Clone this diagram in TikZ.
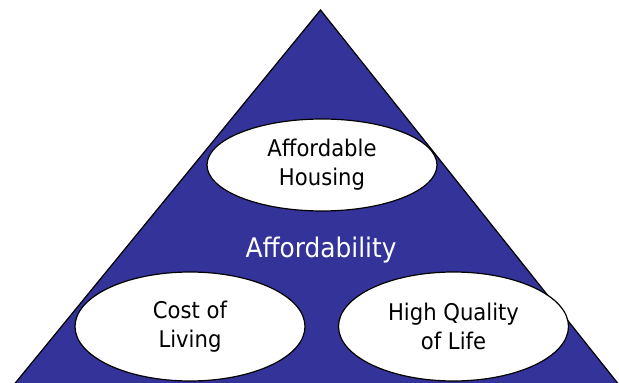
\documentclass[tikz,border=0pt]{standalone}
\usepackage{fontspec}
\setmainfont[FakeStretch=0.92]{DejaVu Sans}
\usetikzlibrary{shapes.geometric}
\definecolor{triblue}{HTML}{333399}
\tikzset{
  bubble/.style={ellipse, draw=black, line width=1.2pt, fill=white, align=center,
    inner sep=0pt, minimum width=230, font=\fontsize{23}{29}\selectfont},
}
\begin{document}
\begin{tikzpicture}[x=1pt,y=1pt]
\useasboundingbox (0,0) rectangle (619,383);
\clip (0,0) rectangle (619,383);
\fill[white] (0,0) rectangle (619,383);
\draw[fill=triblue, line width=1.2pt, line join=miter] (320.5,373) -- (647,-37) -- (-15,-37) -- cycle;
\node[bubble, minimum height=92] (housing) at (322,218) {Affordable\\Housing};
\node[text=white, anchor=base, inner sep=0pt, font=\fontsize{27}{30}\selectfont] (afford) at (321,125) {Affordability};
\node[bubble, minimum height=109] (cost) at (190,56.5) {Cost of\\Living};
\node[bubble, minimum height=109] (life) at (453.5,56.5) {High Quality\\of Life};
\end{tikzpicture}
\end{document}
